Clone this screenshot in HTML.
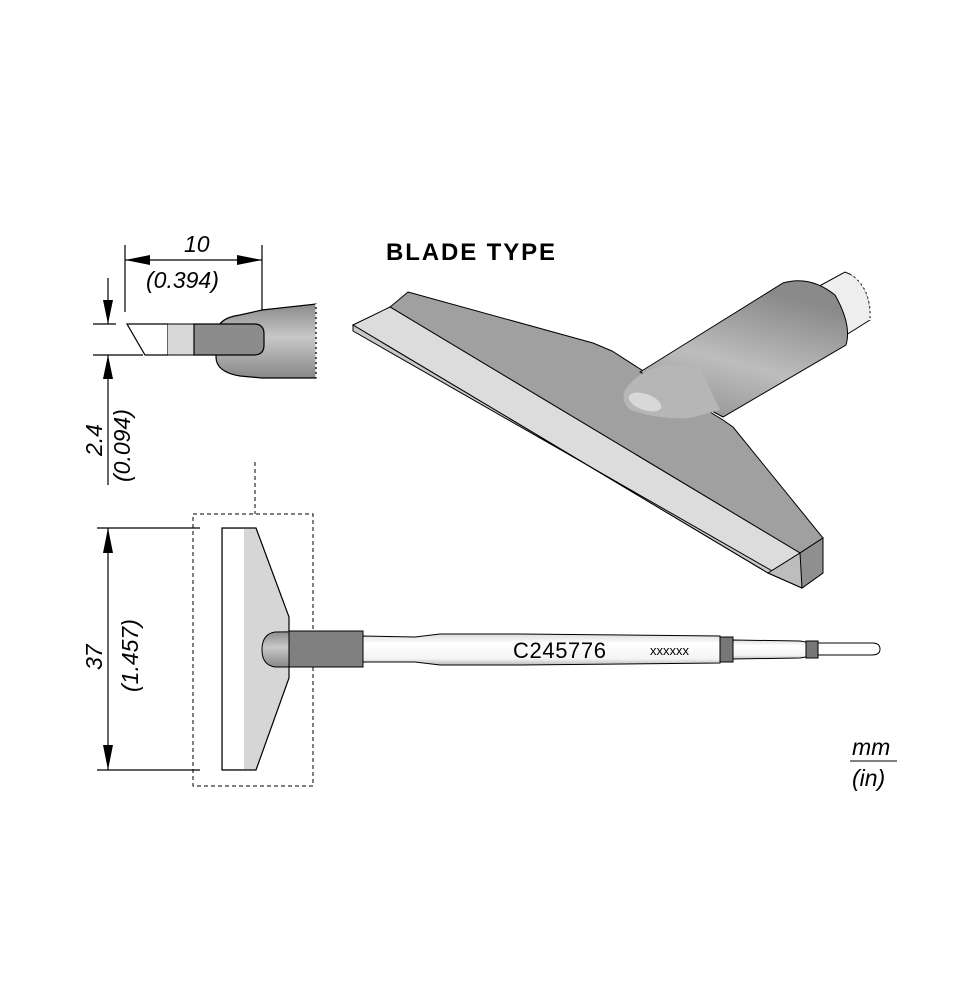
<!DOCTYPE html>
<html><head><meta charset="utf-8"><style>body{margin:0;background:#fff}svg{display:block}text{font-family:"Liberation Sans",sans-serif}</style></head><body>
<svg width="961" height="1000" viewBox="0 0 961 1000" xmlns="http://www.w3.org/2000/svg">
<defs>
<linearGradient id="cyl" x1="0" y1="0" x2="0" y2="1"><stop offset="0" stop-color="#8a8a8a"/><stop offset="0.45" stop-color="#c8c8c8"/><stop offset="1" stop-color="#888"/></linearGradient>
<linearGradient id="cyl3" x1="0" y1="1" x2="0.4" y2="0"><stop offset="0" stop-color="#8e8e8e"/><stop offset="0.5" stop-color="#bdbdbd"/><stop offset="1" stop-color="#8a8a8a"/></linearGradient>
<linearGradient id="shaft" x1="0" y1="0" x2="0" y2="1"><stop offset="0" stop-color="#ddd"/><stop offset="0.3" stop-color="#fff"/><stop offset="0.8" stop-color="#f4f4f4"/><stop offset="1" stop-color="#bbb"/></linearGradient>
</defs>
<g stroke="#000" stroke-width="1.2" fill="none">
<line x1="125" y1="245" x2="125" y2="312"/><line x1="262" y1="245" x2="262" y2="320"/>
<line x1="125" y1="260" x2="262" y2="260"/>
<line x1="108" y1="278" x2="108" y2="324"/><line x1="108" y1="355" x2="108" y2="485"/>
<line x1="93" y1="324" x2="116" y2="324"/><line x1="93" y1="355" x2="143" y2="355"/>
<line x1="97" y1="528" x2="200" y2="528"/><line x1="97" y1="770" x2="200" y2="770"/>
<line x1="108" y1="528" x2="108" y2="770"/>
</g>
<g fill="#000">
<polygon points="125,260 150,255 150,265"/><polygon points="262,260 237,255 237,265"/>
<polygon points="108,324 103,300 113,300"/><polygon points="108,355 103,379 113,379"/>
<polygon points="108,528 103,553 113,553"/><polygon points="108,770 103,745 113,745"/>
</g>
<g font-style="italic" font-size="23" fill="#000">
<text x="184" y="252">10</text><text x="146" y="288">(0.394)</text>
<text transform="translate(102,456) rotate(-90)">2.4</text>
<text transform="translate(130,482) rotate(-90)">(0.094)</text>
<text transform="translate(102,670) rotate(-90)">37</text>
<text transform="translate(138,692) rotate(-90)">(1.457)</text>
<text x="852" y="755">mm</text><text x="852" y="786">(in)</text>
</g>
<line x1="850" y1="761" x2="897" y2="761" stroke="#000" stroke-width="1"/>
<text x="386" y="260" font-size="24" font-weight="bold" textLength="169">BLADE TYPE</text>
<path d="M216,336 Q216,318 240,315 L262,310 L316,304 L316,378 L262,378 L240,376 Q216,372 216,357 Z" fill="url(#cyl)" stroke="#000" stroke-width="1.2"/>
<line x1="316" y1="304" x2="316" y2="378" stroke="#fff" stroke-width="1.5" stroke-dasharray="3,2"/>
<polygon points="127,324 168,324 168,355 145,355" fill="#fff" stroke="#000" stroke-width="1.2"/>
<rect x="168" y="324" width="26" height="31" fill="#d8d8d8"/>
<line x1="127" y1="324" x2="194" y2="324" stroke="#000"/><line x1="145" y1="355" x2="194" y2="355" stroke="#000"/>
<path d="M194,324 L254,324 Q264,324 264,334 L264,345 Q264,355 254,355 L194,355 Z" fill="#8c8c8c" stroke="#000" stroke-width="1.2"/>
<polygon points="408,292 593,343 612,351 637,367 723,420 733,427 823,538 800,553 390,307" fill="#a0a0a0" stroke="#000" stroke-width="1"/>
<polygon points="353,325 390,307 800,553 768,573" fill="#dcdcdc" stroke="#000" stroke-width="1"/>
<polygon points="353,325 768,573 802,588 353,331" fill="#c8c8c8" stroke="#000" stroke-width="1"/>
<polygon points="768,573 800,553 823,538 823,573 802,588" fill="#bdbdbd" stroke="#000" stroke-width="1"/>
<polygon points="800,553 823,538 823,573 802,588" fill="#8f8f8f" stroke="#000" stroke-width="1"/>
<path d="M812,290 L845,272 L852,275 Q872,290 870,320 L846,335 Z" fill="#eee" stroke="#000" stroke-width="1"/>
<path d="M852,274 Q874,292 870,320" fill="none" stroke="#fff" stroke-width="2" stroke-dasharray="3,2"/>
<path d="M640,372 L783,283 Q810,275 835,295 Q852,325 846,345 L723,417 Z" fill="url(#cyl3)" stroke="#000" stroke-width="1"/>
<path d="M625,390 Q640,368 670,365 L700,368 L720,410 L690,418 Q660,420 630,410 Q620,400 625,390 Z" fill="#b6b6b6"/>
<ellipse cx="645" cy="402" rx="17" ry="8" fill="#d8d8d8" transform="rotate(20 645 402)"/>
<line x1="255" y1="462" x2="255" y2="514" stroke="#000" stroke-dasharray="4,3"/>
<rect x="193" y="514" width="120" height="272" fill="none" stroke="#000" stroke-dasharray="4,3"/>
<polygon points="222,528 256,528 289,617 289,632 289,662 289,678 256,770 222,770" fill="#d6d6d6" stroke="#000" stroke-width="1.2"/>
<rect x="223" y="529" width="21" height="240" fill="#fff"/>
<path d="M275,632 L363,631 L363,667 L275,667 Q262,665 262,650 Q262,634 275,632 Z" fill="url(#cyl)" stroke="#000" stroke-width="1"/>
<rect x="289" y="631" width="74" height="36" fill="#808080" stroke="#000" stroke-width="1"/>
<path d="M363,636 L415,637 L440,634 L520,634 L720,636 L720,663 L520,665 L440,665 L415,662 L363,662 Z" fill="url(#shaft)" stroke="#000" stroke-width="1"/>
<rect x="720" y="637" width="13" height="25" fill="#777" stroke="#000" stroke-width="1"/>
<path d="M733,640 L800,641 L806,642 L806,657 L800,658 L733,659 Z" fill="url(#shaft)" stroke="#000" stroke-width="1"/>
<rect x="806" y="641" width="12" height="17" fill="#777" stroke="#000" stroke-width="1"/>
<path d="M818,643 L872,643 Q880,643 880,649 Q880,655 872,655 L818,655 Z" fill="#fff" stroke="#000" stroke-width="1"/>
<text x="513" y="658" font-size="22" textLength="93">C245776</text>
<text x="650" y="655" font-size="13">xxxxxx</text>
</svg>
</body></html>
